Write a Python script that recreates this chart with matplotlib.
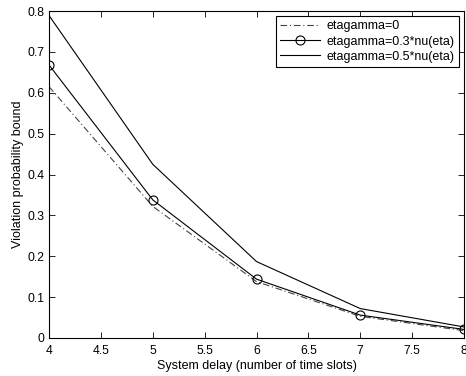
import matplotlib
matplotlib.use("Agg")
import matplotlib.pyplot as plt

delay = [4, 5, 6, 7, 8]
eg0 = [0.615, 0.322, 0.138, 0.053, 0.018]
eg03 = [0.668, 0.338, 0.144, 0.056, 0.021]
eg05 = [0.789, 0.425, 0.187, 0.072, 0.027]
xticks = [4, 4.5, 5, 5.5, 6, 6.5, 7, 7.5, 8]
yticks = [0, 0.1, 0.2, 0.3, 0.4, 0.5, 0.6, 0.7, 0.8]

plt.rcParams['font.family'] = ['Liberation Sans', 'DejaVu Sans']
fig = plt.figure(figsize=(4.66, 3.76), dpi=100)
ax = fig.add_axes([49/466, 1-338/376, (464-49)/466, (338-11)/376])

ax.plot(delay, eg0, color='#444444', linestyle=(0, (6, 2.5, 1, 2.5)), linewidth=0.8, label='etagamma=0')
ax.plot(delay, eg03, color='black', linewidth=0.8, marker='o', markersize=6.5,
        markerfacecolor='none', markeredgewidth=0.8, label='etagamma=0.3*nu(eta)')
ax.plot(delay, eg05, color='black', linewidth=0.8, label='etagamma=0.5*nu(eta)')

ax.set_xlim(4, 8)
ax.set_ylim(0, 0.8)
ax.set_xticks(xticks)
ax.set_xticklabels([f'{t:g}' for t in xticks])
ax.set_yticks(yticks)
ax.set_yticklabels([f'{t:g}' for t in yticks])
ax.tick_params(direction='in', top=True, right=True, labelsize=8.7, length=4, width=0.6)
ax.tick_params(axis='x', pad=5)
ax.tick_params(axis='y', pad=3)
for s in ax.spines.values():
    s.set_linewidth(0.8)
ax.set_xlabel('System delay (number of time slots)', fontsize=9, labelpad=2)
ax.set_ylabel('Violation probability bound', fontsize=9, labelpad=3)

leg = ax.legend(loc='upper right', fontsize=9, fancybox=False, edgecolor='black',
                framealpha=1, handlelength=3.2, borderpad=0.35, labelspacing=0.25,
                handletextpad=0.5, borderaxespad=0.4)
leg.get_frame().set_linewidth(0.8)

fig.savefig('out.png', dpi=100)
